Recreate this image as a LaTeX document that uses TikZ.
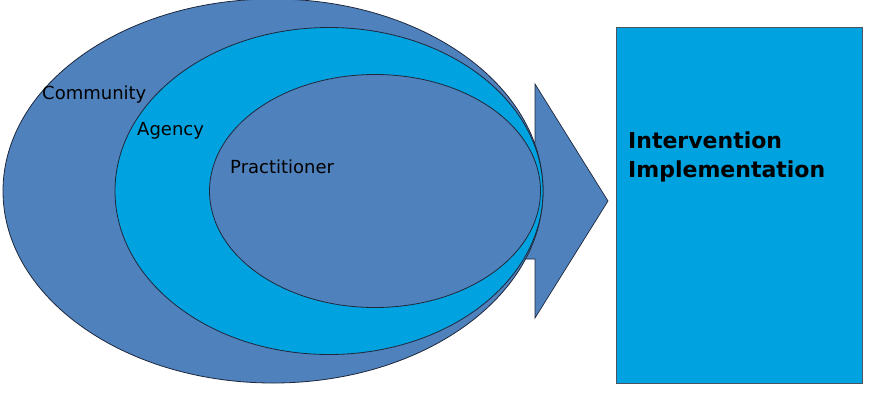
\documentclass[tikz,border=0pt]{standalone}
\usepackage{fontspec}
\setmainfont{DejaVu Sans}
\usepackage{tikz}
\usetikzlibrary{shapes.geometric}
\definecolor{ringblue}{RGB}{79,129,189}
\definecolor{skyblue}{RGB}{0,163,224}
\definecolor{edge}{RGB}{30,40,60}

\begin{document}
\begin{tikzpicture}[
  x=1pt, y=-1pt,
  ring/.style    = {ellipse, draw=edge, line width=0.8pt, inner sep=0pt},
  outerring/.style = {ring, fill=ringblue},
  midring/.style   = {ring, fill=skyblue},
  label/.style   = {anchor=base west, inner sep=0pt, font=\fontsize{18}{22}\selectfont},
  panel/.style   = {rectangle, draw=edge!80, fill=skyblue, line width=1pt, inner sep=0pt},
  flow/.style    = {draw=edge, fill=ringblue, line width=0.7pt, line join=miter}
]
\useasboundingbox (0,0) rectangle (873,400);

% arrow behind the rings
\draw[flow] (430,142) -- (535,142) -- (535,84) -- (608,201) -- (535,318) -- (535,259) -- (430,259) -- cycle;

\node[outerring, minimum width=540, minimum height=384] (community)    at (273,191) {};
\node[midring,   minimum width=428, minimum height=327] (agency)       at (329,191) {};
\node[outerring, minimum width=331, minimum height=233] (practitioner) at (375,191) {};

\node[label] (lcom)  at (42,99)   {Community};
\node[label] (lagy)  at (137,135) {Agency};
\node[label] (lprac) at (230,173) {Practitioner};

\node[panel, minimum width=246, minimum height=356] (impl) at (739,205) {};
\node[anchor=base west, inner sep=0pt, align=left,
      font=\fontsize{22}{29}\selectfont\bfseries] (limpl) at (628,177)
      {Intervention\\Implementation};
\end{tikzpicture}
\end{document}
